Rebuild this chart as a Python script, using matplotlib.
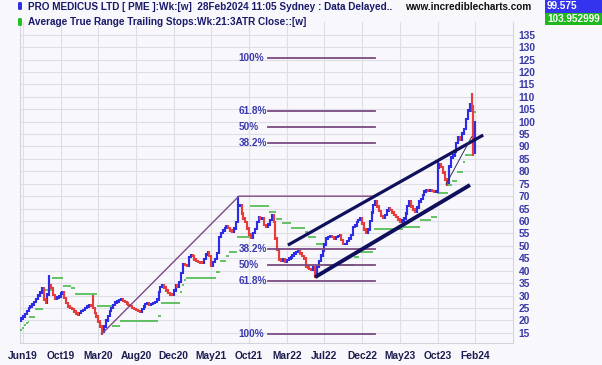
import numpy as np
import matplotlib
matplotlib.use("Agg")
import matplotlib.pyplot as plt
from matplotlib.patches import FancyBboxPatch, Rectangle

# ---------------- data ----------------
x_labels = ["Jun19", "Oct19", "Mar20", "Aug20", "Dec20", "May21", "Oct21",
            "Mar22", "Jul22", "Dec22", "May23", "Oct23", "Feb24"]
x_label_bars = [1, 21, 41, 61, 81, 101, 121, 141, 161, 181, 201, 221, 241]

# weekly closes (bar 0 = mid Jun 2019, bar 241 = last week Feb 2024)
closes = [
    20.8, 21.5, 22.5, 23.8, 24.9, 25.5, 26.3, 27.5, 28.7, 30.0,
    31.3, 32.9, 28.5, 27.2, 30.5, 34.0, 33.0, 30.2, 28.6, 29.3,
    29.6, 30.9, 31.2, 29.0, 27.0, 25.5, 25.0, 24.6, 23.5, 22.8,
    22.2, 23.0, 23.8, 24.2, 25.0, 25.6, 26.2, 25.8, 24.9, 23.0,
    21.5, 19.5, 17.5, 15.5, 17.5, 20.0, 21.8, 23.8, 25.0, 26.2,
    27.2, 27.7, 28.3, 28.5, 27.9, 27.3, 26.8, 26.2, 25.8, 25.0,
    24.5, 24.2, 23.8, 23.5, 24.5, 25.5, 26.5, 26.9, 26.2, 26.5,
    26.9, 27.5, 28.5, 31.5, 33.5, 34.0, 33.2, 32.0, 31.0, 30.5,
    30.2, 32.0, 34.2, 33.6, 35.5, 39.0, 42.5, 42.2, 41.8, 45.5,
    46.3, 46.0, 44.6, 44.0, 43.6, 43.3, 43.0, 44.8, 46.5, 47.6,
    46.0, 42.0, 43.6, 44.8, 47.2, 53.5, 55.2, 56.2, 57.2, 57.7,
    57.2, 56.2, 55.8, 57.0, 59.7, 66.0, 66.5, 63.0, 61.0, 59.5,
    57.0, 54.6, 53.2, 55.2, 56.8, 59.5, 61.7, 61.0, 61.0, 58.4,
    57.7, 58.5, 60.5, 62.4, 59.7, 53.0, 48.5, 44.5, 44.2, 44.5,
    43.8, 44.3, 45.0, 45.4, 46.2, 47.0, 47.6, 47.8, 47.0, 46.0,
    45.0, 41.6, 41.2, 40.7, 40.3, 41.3, 38.3, 41.5, 44.0, 46.2,
    48.0, 50.5, 53.0, 53.6, 53.7, 53.6, 53.0, 53.5, 54.0, 54.4,
    52.3, 50.8, 50.8, 52.0, 53.0, 54.4, 57.5, 58.2, 59.5, 60.5,
    61.0, 59.0, 56.5, 55.2, 56.5, 60.0, 63.5, 66.5, 68.0, 65.8,
    64.0, 62.0, 61.2, 62.4, 64.2, 65.0, 64.4, 63.5, 62.4, 61.7,
    60.6, 59.7, 60.2, 61.0, 63.0, 66.0, 67.8, 65.8, 64.6, 63.8,
    65.5, 67.8, 68.8, 70.5, 71.8, 72.5, 72.0, 72.3, 72.0, 71.8,
    71.8, 81.5, 83.0, 81.8, 79.5, 76.8, 75.2, 82.0, 85.5, 86.3,
    88.0, 91.5, 93.8, 92.6, 95.3, 97.0, 101.0, 104.5, 107.0, 106.0,
    87.5, 99.575,
]
first_open = 20.0
# notable intrabar extremes (bar: (low, high))
wick_extremes = {15: (33.0, 38.3), 38: (24.5, 30.2), 43: (14.3, 17.5),
                 115: (59.7, 70.0), 156: (36.9, 41.3), 226: (74.0, 77.0),
                 239: (104.0, 111.5), 240: (86.0, 106.0), 221: (71.8, 84.5)}

# ATR trailing stop runs: (first bar, last bar, level)
stop_runs = [
    (0, 0, 16.0), (1, 1, 17.0), (2, 2, 18.0), (3, 3, 18.8), (4, 4, 19.5),
    (5, 7, 21.2), (8, 11, 24.5), (12, 16, 32.3), (17, 22, 36.9),
    (23, 26, 34.0), (27, 28, 33.0), (29, 40, 30.6), (41, 48, 25.8),
    (49, 52, 17.7), (53, 72, 19.9), (73, 74, 21.9), (75, 84, 26.9),
    (85, 85, 31.5), (86, 86, 34.2), (87, 87, 36.2), (88, 103, 36.9),
    (104, 105, 39.3), (106, 108, 43.9), (109, 110, 45.9), (111, 114, 47.6),
    (115, 121, 53.7), (122, 131, 66.2), (132, 135, 63.5), (136, 138, 61.0),
    (139, 143, 59.0), (144, 150, 57.3), (151, 152, 55.5), (153, 156, 53.7),
    (157, 161, 50.6), (162, 176, 42.3), (177, 179, 45.5), (180, 186, 47.6),
    (187, 187, 52.0), (188, 202, 56.6), (203, 211, 57.7), (212, 217, 60.4),
    (218, 220, 61.7), (221, 226, 71.4), (227, 228, 74.5), (229, 231, 76.1),
    (232, 234, 79.8), (235, 235, 83.6), (236, 239, 86.5), (240, 241, 103.952999),
]

# Fibonacci swing (Mar20 low -> Oct21 high)
fib_low, fib_high = 14.5, 70.0
fib_low_bar, fib_high_bar = 42.8, 115.6
fib_line_bars = (131.2, 187.8)
fib_label_bar = 115.3
retrace_levels = [0.382, 0.5, 0.618, 1.0]
retrace_labels = ["38.2%", "50%", "61.8%", "100%"]
ext_levels = [0.382, 0.5, 0.618, 1.0]
ext_labels = ["38.2%", "50%", "61.8%", "100%"]

# trend lines: ((bar, price), (bar, price))
channel_upper = ((141.6, 50.3), (245.2, 94.6))
channel_lower = ((156.0, 37.4), (238.2, 74.5))
thin_trend = ((225.5, 74.8), (239.1, 93.9))

y_ticks = list(range(15, 140, 5))
last_close_text = "99.575"
last_stop_text = "103.952999"

# ---------------- figure ----------------
W, H = 602, 365
BG = "#f8f8fc"
FONT = "Liberation Sans"
fig = plt.figure(figsize=(W / 100, H / 100), dpi=100, facecolor=BG)
ax = fig.add_axes([20 / W, (H - 343) / H, (513 - 20) / W, (343 - 22) / H], facecolor=BG)

n = len(closes)
idx = np.arange(n)
opens = np.array([first_open] + closes[:-1])
cl = np.array(closes)
lo = np.minimum(opens, cl)
hi = np.maximum(opens, cl)
pad = 0.5
lo = lo - pad
hi = hi + pad
for b, (l, h) in wick_extremes.items():
    lo[b] = min(lo[b], l)
    hi[b] = max(hi[b], h)
up = cl >= opens
blue = "#2c2ce6"
red = "#e63c3c"
ax.vlines(idx[up], lo[up], hi[up], color=blue, lw=1.55, zorder=4)
ax.vlines(idx[~up], lo[~up], hi[~up], color=red, lw=1.55, zorder=4)

# trailing stop: short horizontal tick per bar
stop = np.full(n, np.nan)
for a, b, v in stop_runs:
    stop[a:b + 1] = v
ax.hlines(stop, idx - 0.5, idx + 0.5, color="#3cb43c", lw=1.1, zorder=3)

# fib lines
fib_col = "#7a4a80"
lab_col = "#3a3ab0"
rng = fib_high - fib_low
ax.plot([fib_low_bar, fib_high_bar, fib_line_bars[1]], [fib_low, fib_high, fib_high],
        color=fib_col, lw=1.0, zorder=5)
for lv, lab in zip(retrace_levels, retrace_labels):
    y = fib_high - lv * rng
    ax.plot(fib_line_bars, [y, y], color=fib_col, lw=1.3, zorder=5)
    ax.text(fib_label_bar, y, lab, color=lab_col, fontsize=7.2, fontweight="bold",
            family=FONT, va="center", ha="left", zorder=6)
for lv, lab in zip(ext_levels, ext_labels):
    y = fib_high + lv * rng
    ax.plot(fib_line_bars, [y, y], color=fib_col, lw=1.3, zorder=5)
    ax.text(fib_label_bar, y, lab, color=lab_col, fontsize=7.2, fontweight="bold",
            family=FONT, va="center", ha="left", zorder=6)

navy = "#0f0f5c"
for (p0, p1), lw in ((channel_upper, 2.3), (channel_lower, 2.8)):
    ax.plot([p0[0], p1[0]], [p0[1], p1[1]], color=navy, lw=lw,
            solid_capstyle="butt", zorder=7)
ax.plot([thin_trend[0][0], thin_trend[1][0]], [thin_trend[0][1], thin_trend[1][1]],
        color="#303050", lw=0.7, zorder=7)

# axes styling
ax.set_xlim((20 - 21) / 1.885, (513 - 21) / 1.885)
ax.set_ylim(10.9, 140.1)
ax.set_xticks(x_label_bars)
ax.set_xticklabels(x_labels, fontsize=7.4, fontweight="bold", color="#1c1c50", family=FONT)
ax.set_yticks(y_ticks)
ax.set_yticklabels([str(t) for t in y_ticks], fontsize=7.4, fontweight="bold",
                   color="#3a3aa8", family=FONT)
ax.yaxis.tick_right()
ax.tick_params(axis="both", length=0)
ax.tick_params(axis="y", pad=4)
ax.tick_params(axis="x", pad=6)
ax.grid(True, color="#dedee8", lw=0.8, zorder=0)
ax.set_axisbelow(True)
for s in ax.spines.values():
    s.set_color("#d4d4dc")
    s.set_linewidth(0.8)
ax.spines["top"].set_visible(False)

# header texts
def fx(px):
    return px / W

def fy(py):
    return 1 - py / H

fig.patches.append(FancyBboxPatch((fx(18), fy(10)), fx(4), 8 / H, boxstyle="round,pad=0,rounding_size=0.003",
                                  transform=fig.transFigure, facecolor="#3030e8", edgecolor="none"))
fig.patches.append(FancyBboxPatch((fx(18), fy(26)), fx(4), 8 / H, boxstyle="round,pad=0,rounding_size=0.003",
                                  transform=fig.transFigure, facecolor="#22c022", edgecolor="none"))
fig.text(fx(27.5), fy(7), "PRO MEDICUS LTD [ PME ]:Wk:[w]  28Feb2024 11:05 Sydney : Data Delayed..",
         fontsize=7.2, fontweight="bold", color="#1a1a6a", family=FONT, va="center")
fig.text(fx(27.5), fy(22), "Average True Range Trailing Stops:Wk:21:3ATR Close::[w]",
         fontsize=7.2, fontweight="bold", color="#1a1a6a", family=FONT, va="center")
fig.text(fx(405), fy(7), "www.incrediblecharts.com", fontsize=7.2, fontweight="bold",
         color="#101010", family=FONT, va="center")
fig.patches.append(Rectangle((fx(545), fy(12.5)), fx(57), 12.5 / H, transform=fig.transFigure,
                             facecolor="#3434ee", edgecolor="none"))
fig.patches.append(Rectangle((fx(545), fy(25)), fx(57), 12 / H, transform=fig.transFigure,
                             facecolor="#1fb81f", edgecolor="none"))
fig.text(fx(547), fy(6.3), last_close_text, fontsize=7.2, fontweight="bold", color="white",
         family=FONT, va="center")
fig.text(fx(547), fy(19), last_stop_text, fontsize=7.2, fontweight="bold", color="white",
         family=FONT, va="center")

fig.savefig("out.png", dpi=100, facecolor=BG)
